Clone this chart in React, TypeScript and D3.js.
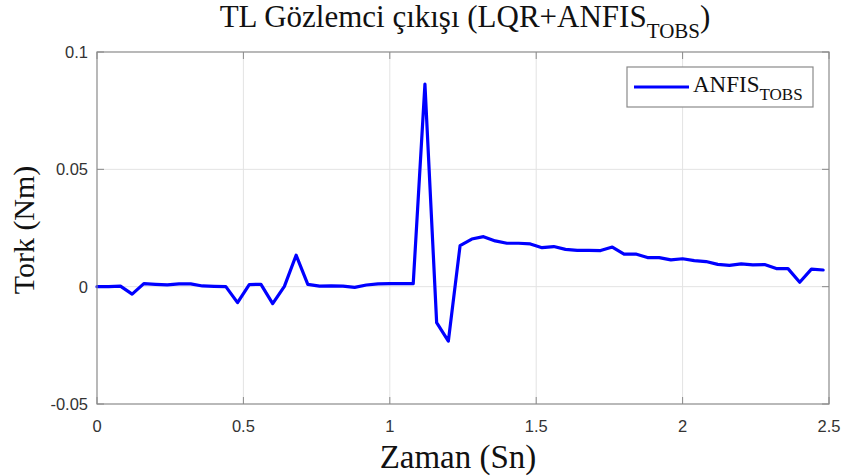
import React from "react";
import * as d3 from "d3";

const times: number[] = [
  0, 0.04, 0.08, 0.12, 0.16, 0.2, 0.24, 0.28, 0.32, 0.36, 0.4, 0.44, 0.48, 0.52, 0.56, 0.6,
  0.64, 0.68, 0.72, 0.76, 0.8, 0.84, 0.88, 0.92, 0.96, 1.0, 1.04, 1.08, 1.12, 1.16, 1.2,
  1.24, 1.28, 1.32, 1.36, 1.4, 1.44, 1.48, 1.52, 1.56, 1.6, 1.64, 1.68, 1.72, 1.76, 1.8,
  1.84, 1.88, 1.92, 1.96, 2.0, 2.04, 2.08, 2.12, 2.16, 2.2, 2.24, 2.28, 2.32, 2.36, 2.4,
  2.44, 2.48,
];

const torque: number[] = [
  0, 0, 0.0002, -0.0032, 0.0013, 0.001, 0.0008, 0.0012, 0.0012, 0.0003, 0.0001, 0, -0.0068,
  0.0009, 0.001, -0.0072, 0.0001, 0.0134, 0.001, 0.0002, 0.0003, 0.0002, -0.0003, 0.0007,
  0.0012, 0.0013, 0.0013, 0.0013, 0.0863, -0.0153, -0.0232, 0.0175, 0.0203, 0.0213, 0.0195,
  0.0185, 0.0185, 0.0182, 0.0166, 0.0171, 0.0159, 0.0155, 0.0155, 0.0154, 0.0169, 0.0139,
  0.0139, 0.0124, 0.0124, 0.0114, 0.0119, 0.0111, 0.0107, 0.0095, 0.0091, 0.0097, 0.0093,
  0.0094, 0.0077, 0.0077, 0.0019, 0.0075, 0.0071,
];

const xTicks: number[] = [0, 0.5, 1, 1.5, 2, 2.5];
const xTickLabels: string[] = ["0", "0.5", "1", "1.5", "2", "2.5"];
const yTicks: number[] = [-0.05, 0, 0.05, 0.1];
const yTickLabels: string[] = ["-0.05", "0", "0.05", "0.1"];

const titleMain = "TL Gözlemci çıkışı (LQR+ANFIS";
const titleSub = "TOBS";
const xLabel = "Zaman (Sn)";
const yLabel = "Tork (Nm)";
const legendMain = "ANFIS";
const legendSub = "TOBS";

export default function App() {
  const W = 843;
  const H = 476;
  const left = 97;
  const right = 829;
  const top = 52;
  const bottom = 404;
  const x = d3.scaleLinear().domain([0, 2.5]).range([left, right]);
  const y = d3.scaleLinear().domain([-0.05, 0.1]).range([bottom, top]);
  const pts: [number, number][] = times.map((t, i) => [t, torque[i]]);
  const line = d3
    .line<[number, number]>()
    .x((d) => x(d[0]))
    .y((d) => y(d[1]));
  const serif = "Liberation Serif";
  const sans = "Liberation Sans";
  const frame = "#8a8a8a";
  const grid = "#e3e3e3";
  const tickLen = 7;
  const cx = (left + right) / 2;

  return (
    <svg
      width={W}
      height={H}
      style={{ position: "absolute", left: 0, top: 0, background: "#fff" }}
    >
      <rect x={0} y={0} width={W} height={H} fill="#fff" />
      {xTicks.slice(1, -1).map((t) => (
        <line key={"gx" + t} x1={x(t)} x2={x(t)} y1={top} y2={bottom} stroke={grid} strokeWidth={1} />
      ))}
      {yTicks.slice(1, -1).map((t) => (
        <line key={"gy" + t} x1={left} x2={right} y1={y(t)} y2={y(t)} stroke={grid} strokeWidth={1} />
      ))}
      {xTicks.map((t) => (
        <g key={"tx" + t}>
          <line x1={x(t)} x2={x(t)} y1={bottom} y2={bottom - tickLen} stroke={frame} />
          <line x1={x(t)} x2={x(t)} y1={top} y2={top + tickLen} stroke={frame} />
        </g>
      ))}
      {yTicks.map((t) => (
        <g key={"ty" + t}>
          <line x1={left} x2={left + tickLen} y1={y(t)} y2={y(t)} stroke={frame} />
          <line x1={right} x2={right - tickLen} y1={y(t)} y2={y(t)} stroke={frame} />
        </g>
      ))}
      <path
        d={line(pts) || ""}
        fill="none"
        stroke="#0000ff"
        strokeWidth={3.2}
        strokeLinejoin="round"
        strokeLinecap="round"
      />
      <rect x={left} y={top} width={right - left} height={bottom - top} fill="none" stroke={frame} strokeWidth={1.2} />
      {xTicks.map((t, i) => (
        <text
          key={"lx" + t}
          x={x(t)}
          y={432}
          textAnchor="middle"
          fontFamily={sans}
          fontSize={16.5}
          fill="#333"
        >
          {xTickLabels[i]}
        </text>
      ))}
      {yTicks.map((t, i) => (
        <text
          key={"ly" + t}
          x={88}
          y={y(t) + 6}
          textAnchor="end"
          fontFamily={sans}
          fontSize={16.5}
          fill="#333"
        >
          {yTickLabels[i]}
        </text>
      ))}
      <text x={cx + 2} y={27} textAnchor="middle" fontFamily={serif} fontSize={31} fill="#111">
        {titleMain}
        <tspan dy={11} fontSize={21}>
          {titleSub}
        </tspan>
        <tspan dy={-11}>)</tspan>
      </text>
      <text x={cx - 5} y={468} textAnchor="middle" fontFamily={serif} fontSize={33} fill="#111">
        {xLabel}
      </text>
      <text
        transform={`translate(34, ${(top + bottom) / 2 + 2}) rotate(-90)`}
        textAnchor="middle"
        fontFamily={serif}
        fontSize={30}
        fill="#111"
      >
        {yLabel}
      </text>
      <rect x={627} y={67} width={186} height={40} fill="#fff" stroke={frame} strokeWidth={1.2} />
      <line x1={634} x2={689} y1={87} y2={87} stroke="#0000ff" strokeWidth={3.2} />
      <text x={693} y={92} fontFamily={serif} fontSize={23} fill="#111">
        {legendMain}
        <tspan dy={8} fontSize={17}>
          {legendSub}
        </tspan>
      </text>
    </svg>
  );
}
